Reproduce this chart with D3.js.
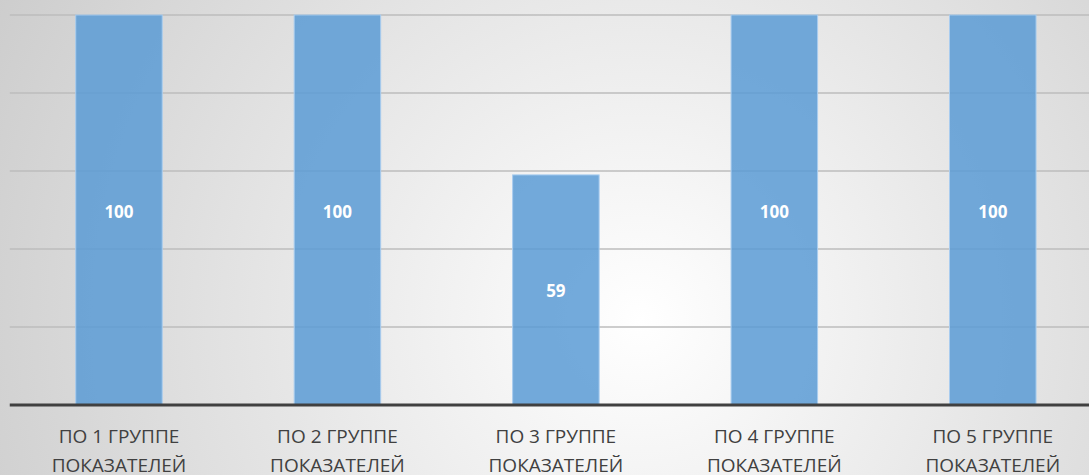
<!DOCTYPE html>
<html><head><meta charset="utf-8">
<script src="https://cdn.jsdelivr.net/npm/d3@7"></script>
<style>html,body{margin:0;padding:0;overflow:hidden;}svg{display:block;}</style>
</head><body>
<svg id="chart" width="1089" height="475"></svg>
<script>
const categories = ["ПО 1 ГРУППЕ|ПОКАЗАТЕЛЕЙ","ПО 2 ГРУППЕ|ПОКАЗАТЕЛЕЙ","ПО 3 ГРУППЕ|ПОКАЗАТЕЛЕЙ","ПО 4 ГРУППЕ|ПОКАЗАТЕЛЕЙ","ПО 5 ГРУППЕ|ПОКАЗАТЕЛЕЙ"];
const values = [100,100,59,100,100];
const yTicks = [20,40,60,80,100];

(function(){
const W=1089,H=475;
const svg=d3.select("#chart");
const defs=svg.append("defs");
const rg=defs.append("radialGradient").attr("id","bg").attr("gradientUnits","userSpaceOnUse")
  .attr("cx",640).attr("cy",320).attr("r",720);
rg.append("stop").attr("offset","0%").attr("stop-color","#ffffff");
rg.append("stop").attr("offset","100%").attr("stop-color","#cdcdcd");
svg.append("rect").attr("width",W).attr("height",H).attr("fill","url(#bg)");

const pl=9.75, pr=1102, pt=15, pb=405;
const x=d3.scaleBand().domain(categories).range([pl,pr]).paddingInner(0.604).paddingOuter(0.302);
const y=d3.scaleLinear().domain([0,100]).range([pb,pt]);

const g=svg.append("g");
g.selectAll(".grid").data(yTicks).join("line")
  .attr("x1",pl).attr("x2",W).attr("y1",d=>y(d)).attr("y2",d=>y(d))
  .attr("stroke","#bdbdbd").attr("stroke-width",1.5);

g.selectAll(".bar").data(values).join("rect")
  .attr("x",(d,i)=>x(categories[i])).attr("width",x.bandwidth())
  .attr("y",d=>y(d)).attr("height",d=>pb-y(d))
  .attr("fill","#5b9bd5").attr("fill-opacity",0.85)
  .attr("stroke","#a9cdef").attr("stroke-width",1);

g.selectAll(".val").data(values).join("text")
  .attr("x",(d,i)=>x(categories[i])+x.bandwidth()/2)
  .attr("y",d=>(y(d)+pb)/2+1)
  .attr("text-anchor","middle").attr("dominant-baseline","central")
  .attr("font-family","Open Sans, sans-serif").attr("font-weight","bold").attr("font-size",17)
  .attr("fill","#ffffff").text(d=>d);

const axis=d3.axisBottom(x).tickSize(0).tickFormat("");
const ax=svg.append("g").attr("transform",`translate(0,${pb})`).call(axis);
ax.select(".domain").attr("stroke","#404040").attr("stroke-width",3).attr("d",`M${pl},0H${W}`);

const lab=svg.append("g").selectAll("text").data(categories).join("text")
  .attr("x",d=>x(d)+x.bandwidth()/2).attr("text-anchor","middle")
  .attr("font-family","Open Sans, sans-serif").attr("font-size",19).attr("fill","#404040");
lab.each(function(d){
  const parts=d.split("|");
  const t=d3.select(this);
  t.append("tspan").attr("x",x(d)+x.bandwidth()/2).attr("y",443).text(parts[0]);
  t.append("tspan").attr("x",x(d)+x.bandwidth()/2).attr("y",472).text(parts[1]);
});
})();
</script>
</body></html>
